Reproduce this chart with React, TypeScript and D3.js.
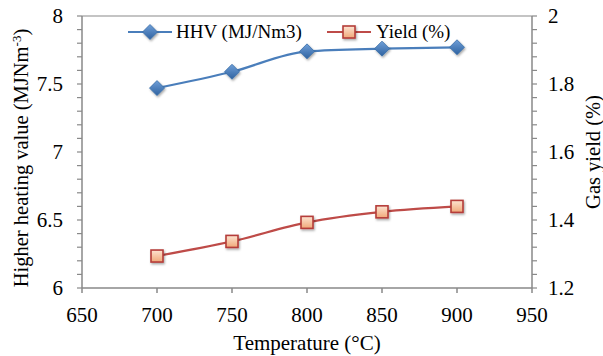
import React from "react";
import * as d3 from "d3";

const temperatures = [700, 750, 800, 850, 900];
const hhvValues = [7.47, 7.59, 7.74, 7.76, 7.77];
const yieldValues = [1.294, 1.337, 1.393, 1.424, 1.44];
const xTicks = [650, 700, 750, 800, 850, 900, 950];
const leftTicks = [6, 6.5, 7, 7.5, 8];
const rightTicks = [1.2, 1.4, 1.6, 1.8, 2];

const W = 603, H = 356;
const M = { left: 82, right: 532, top: 16, bottom: 288 };
const FONT = "'Liberation Serif', 'Times New Roman', serif";
const AXIS = "#898989";

export default function App() {
  const x = d3.scaleLinear().domain([650, 950]).range([M.left, M.right]);
  const yL = d3.scaleLinear().domain([6, 8]).range([M.bottom, M.top]);
  const yR = d3.scaleLinear().domain([1.2, 2]).range([M.bottom, M.top]);
  const curve = d3.curveMonotoneX;
  const hhvLine = d3.line<number>().x((_, i) => x(temperatures[i])).y((d) => yL(d)).curve(curve)(hhvValues) || "";
  const yLine = d3.line<number>().x((_, i) => x(temperatures[i])).y((d) => yR(d)).curve(curve)(yieldValues) || "";
  const leftMinor = d3.range(0, 21).map((i) => 6 + i * 0.1);
  const rightMinor = d3.range(0, 21).map((i) => 1.2 + i * 0.04);

  const diamond = (cx: number, cy: number, k: string) => (
    <path key={k} d={`M${cx},${cy - 7.5}L${cx + 7.5},${cy}L${cx},${cy + 7.5}L${cx - 7.5},${cy}Z`} fill="url(#gB)" stroke="#3a6ea8" strokeWidth={0.8} filter="url(#sh)" />
  );
  const square = (cx: number, cy: number, k: string) => (
    <rect key={k} x={cx - 6} y={cy - 6} width={12} height={12} fill="url(#gR)" stroke="#b53d3a" strokeWidth={1.6} filter="url(#sh)" />
  );

  return (
    <svg width={W} height={H} style={{ position: "absolute", left: 0, top: 0, background: "#fff" }} fontFamily={FONT}>
      <defs>
        <linearGradient id="gB" x1="0" y1="0" x2="0" y2="1">
          <stop offset="0" stopColor="#6f9fd8" />
          <stop offset="1" stopColor="#2f62a0" />
        </linearGradient>
        <linearGradient id="gR" x1="0" y1="0" x2="0" y2="1">
          <stop offset="0" stopColor="#fde4d2" />
          <stop offset="1" stopColor="#f0a878" />
        </linearGradient>
        <filter id="sh" x="-50%" y="-50%" width="200%" height="200%">
          <feDropShadow dx="1" dy="1.5" stdDeviation="1" floodColor="#000" floodOpacity="0.35" />
        </filter>
      </defs>
      {/* frame */}
      <line x1={M.left} x2={M.right} y1={M.top} y2={M.top} stroke={AXIS} strokeWidth={1} />
      <line x1={M.left} x2={M.right} y1={M.bottom} y2={M.bottom} stroke={AXIS} strokeWidth={1.5} />
      <line x1={M.left} x2={M.left} y1={M.top} y2={M.bottom} stroke={AXIS} strokeWidth={1.5} />
      <line x1={M.right} x2={M.right} y1={M.top} y2={M.bottom} stroke={AXIS} strokeWidth={1.5} />
      {/* x ticks */}
      {xTicks.map((t) => (
        <g key={"x" + t}>
          <line x1={x(t)} x2={x(t)} y1={M.bottom} y2={M.bottom + 5} stroke={AXIS} strokeWidth={1.5} />
          <text x={x(t)} y={322} textAnchor="middle" fontSize={21} fill="#000">{t}</text>
        </g>
      ))}
      {leftMinor.map((t, i) => (
        <line key={"lm" + i} x1={M.left - 5} x2={M.left} y1={yL(t)} y2={yL(t)} stroke={AXIS} strokeWidth={1.2} />
      ))}
      {leftTicks.map((t) => (
        <text key={"l" + t} x={63} y={yL(t) + 7} textAnchor="end" fontSize={21} fill="#000">{t}</text>
      ))}
      {rightMinor.map((t, i) => (
        <line key={"rm" + i} x1={M.right} x2={M.right + 5} y1={yR(t)} y2={yR(t)} stroke={AXIS} strokeWidth={1.2} />
      ))}
      {rightTicks.map((t) => (
        <text key={"r" + t} x={548} y={yR(t) + 7} textAnchor="start" fontSize={21} fill="#000">{t.toFixed(1).replace(/\.0$/, "")}</text>
      ))}
      {/* lines */}
      <path d={hhvLine} fill="none" stroke="#4a7ebb" strokeWidth={2.2} />
      <path d={yLine} fill="none" stroke="#be4b48" strokeWidth={2.2} />
      {temperatures.map((t, i) => diamond(x(t), yL(hhvValues[i]), "d" + i))}
      {temperatures.map((t, i) => square(x(t), yR(yieldValues[i]), "s" + i))}
      {/* legend */}
      <line x1={128} x2={172} y1={32} y2={32} stroke="#4a7ebb" strokeWidth={2.2} />
      {diamond(150, 32, "ld")}
      <text x={176} y={38} fontSize={19} fill="#000">HHV (MJ/Nm3)</text>
      <line x1={327} x2={371} y1={32} y2={32} stroke="#be4b48" strokeWidth={2.2} />
      {square(349, 32, "ls")}
      <text x={376} y={38} fontSize={19} fill="#000">Yield (%)</text>
      {/* axis titles */}
      <text x={307} y={350} textAnchor="middle" fontSize={21} fill="#000">Temperature (°C)</text>
      <text transform={`translate(28,158) rotate(-90)`} textAnchor="middle" fontSize={20.5} fill="#000">
        Higher heating value (MJNm<tspan dy={-7} fontSize={13}>-3</tspan><tspan dy={7}>)</tspan>
      </text>
      <text transform={`translate(600,152) rotate(-90)`} textAnchor="middle" fontSize={20.5} fill="#000">Gas yield (%)</text>
    </svg>
  );
}
